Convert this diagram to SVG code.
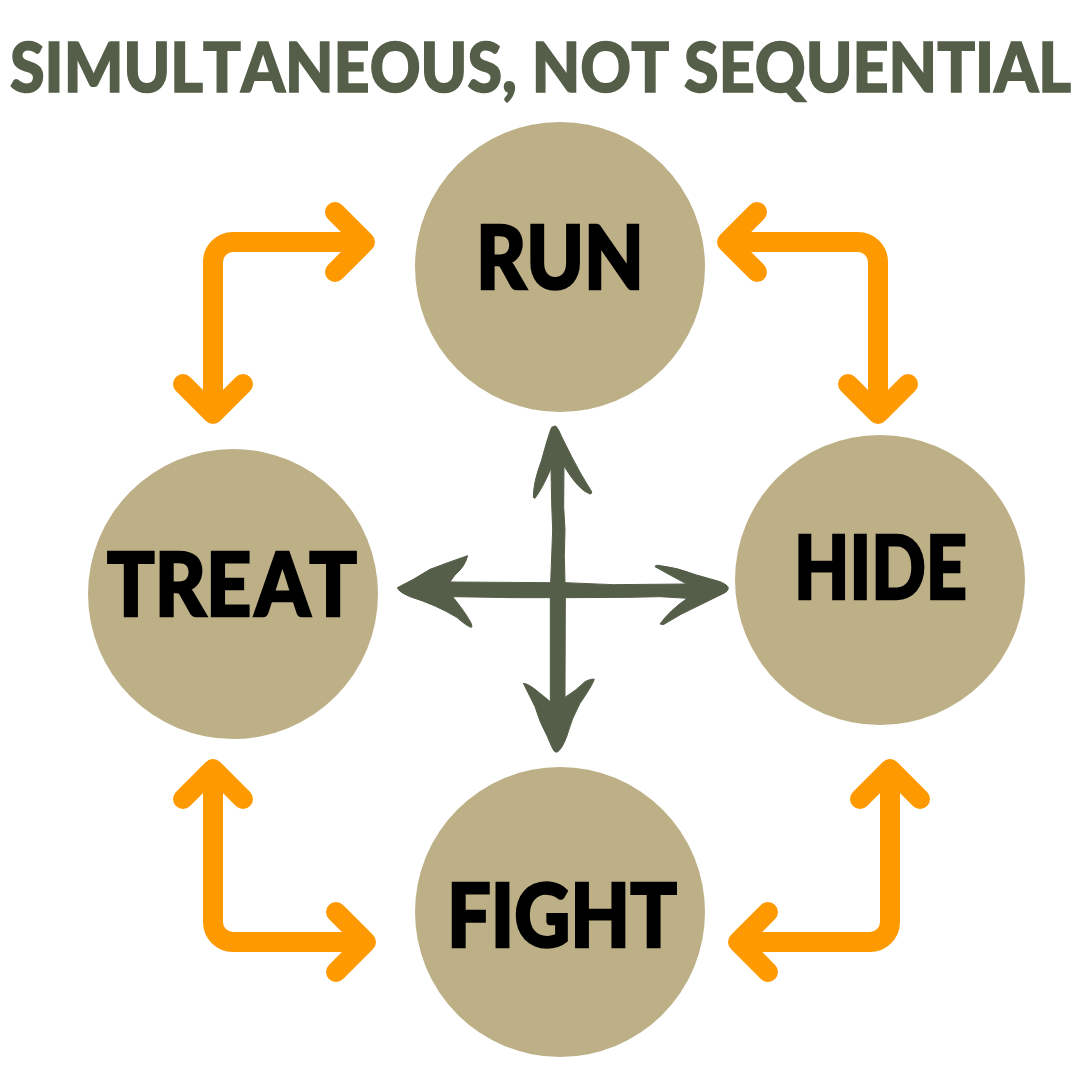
<svg xmlns="http://www.w3.org/2000/svg" width="1080" height="1080" viewBox="0 0 1080 1080">
<style>
.node{fill:#bdb087}
.label{font-family:"Lato","Liberation Sans",sans-serif;font-weight:900;font-size:87px;font-kerning:none;fill:#000;stroke:#000;stroke-width:2.5;stroke-linejoin:miter}
.title{font-family:"Lato","Liberation Sans",sans-serif;font-weight:900;font-size:68px;font-kerning:none;fill:#545e48;stroke:#545e48;stroke-width:1.5}
.link{fill:none;stroke:#ff9900;stroke-width:20;stroke-linecap:round;stroke-linejoin:round}
.cross{fill:#545e48;stroke:#545e48;stroke-width:3;stroke-linejoin:round}
</style>
<rect width="1080" height="1080" fill="#fff"/>
<text id="title" class="title" x="10" y="91.500" textLength="1061" lengthAdjust="spacingAndGlyphs">SIMULTANEOUS, NOT SEQUENTIAL</text>
<g id="connectors">
<g id="link-run-treat"><path class="link" d="M365 242H233a20 20 0 0 0-20 20V414M335 212l30 30-30 30M183 384l30 30 30-30"/></g>
<g id="link-run-hide"><path class="link" d="M727 242H858a20 20 0 0 1 20 20V414M757 212l-30 30 30 30M848 384l30 30 30-30"/></g>
<g id="link-treat-fight"><path class="link" d="M213 769V922a20 20 0 0 0 20 20H366M183 799l30-30 30 30M336 912l30 30-30 30"/></g>
<g id="link-hide-fight"><path class="link" d="M890 769V922a20 20 0 0 1-20 20H738M860 799l30-30 30 30M768 912l-30 30 30 30"/></g>
<path id="cross-arrows" class="cross" transform="translate(380 410) scale(.33333)" d="M527 48Q535 55 545 80L575 140Q600 190 635 245Q636 252 630 252Q595 240 552 168L551 290L555 360L553 440L555 518L700 524L920 522Q870 495 825 470Q825 465 835 466Q890 472 950 495L1020 515Q1045 525 1045 535Q1045 542 1035 548L960 585Q900 612 850 644L840 642Q870 600 922 565L840 560L750 562L556 563L555 862Q590 840 615 815Q635 805 643 808Q635 830 600 880Q575 925 560 980Q545 1020 530 1027Q522 1027 515 1010L500 975Q480 940 465 890L430 820Q445 820 480 850L511 875L511 563L400 563L218 560Q250 600 265 625Q278 645 275 652Q265 652 230 622Q170 585 90 560Q55 545 52 533Q100 510 150 478Q210 455 263 437Q255 470 225 495L210 516L512 518L518 360L515 280L513 175Q490 230 465 265L460 262Q460 215 485 150Q505 75 515 52Q522 48 527 48Z"/>
</g>
<g id="node-run"><circle class="node" cx="560" cy="267" r="145"/><text class="label" x="476" y="289" textLength="168" lengthAdjust="spacingAndGlyphs">RUN</text></g>
<g id="node-hide"><circle class="node" cx="880" cy="580" r="145"/><text class="label" x="794" y="599" textLength="173" lengthAdjust="spacingAndGlyphs">HIDE</text></g>
<g id="node-treat"><circle class="node" cx="233" cy="594" r="145"/><text class="label" x="107" y="616" dx="0 0 0 4 -1" textLength="250" lengthAdjust="spacingAndGlyphs">TREAT</text></g>
<g id="node-fight"><circle class="node" cx="560" cy="912" r="145"/><text class="label" x="447" y="947" textLength="230" lengthAdjust="spacingAndGlyphs">FIGHT</text></g>
</svg>
